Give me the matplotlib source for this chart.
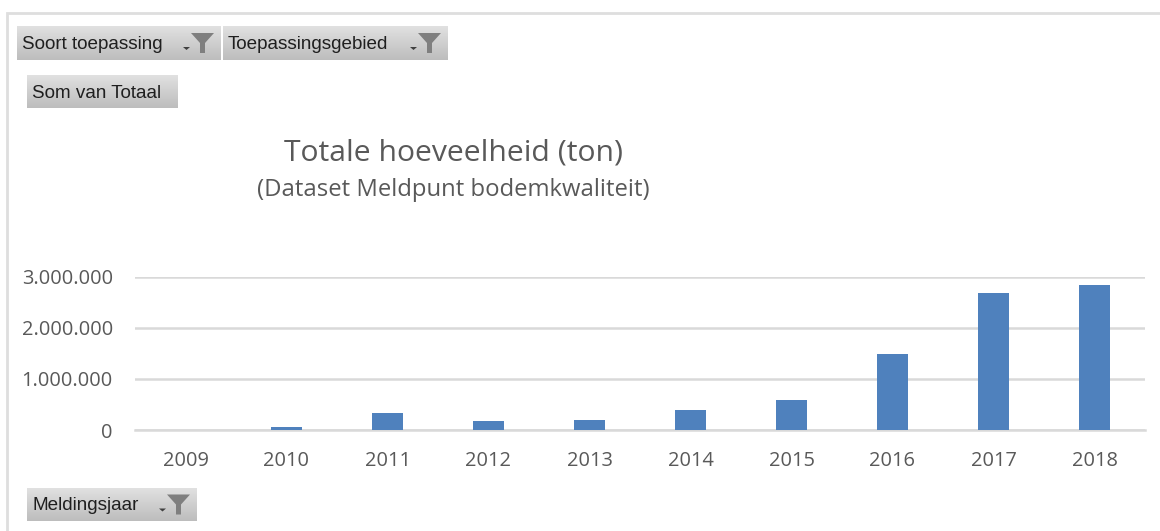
import matplotlib
matplotlib.use("Agg")
import matplotlib.pyplot as plt
import numpy as np
from matplotlib.patches import Polygon

years = ["2009", "2010", "2011", "2012", "2013", "2014", "2015", "2016", "2017", "2018"]
totals = [5000, 60000, 330000, 170000, 190000, 400000, 590000, 1490000, 2670000, 2830000]
yticks = [0, 1000000, 2000000, 3000000]
ytick_labels = ["0", "1.000.000", "2.000.000", "3.000.000"]
title = "Totale hoeveelheid (ton)"
subtitle = "(Dataset Meldpunt bodemkwaliteit)"
buttons = [("Soort toepassing", 17, 221, 26, 60, True),
           ("Toepassingsgebied", 223, 448, 26, 60, True),
           ("Som van Totaal", 27, 178, 75, 108, False),
           ("Meldingsjaar", 27, 197, 488, 521, True)]

W, H = 1160, 531
GREY = "#595959"
GRID = "#D9D9D9"
plt.rcParams["font.family"] = ["Open Sans", "DejaVu Sans"]

fig = plt.figure(figsize=(W / 100, H / 100), dpi=100, facecolor="white")

# overlay in pixel coordinates for the pivot-chart furniture
bg = fig.add_axes([0, 0, 1, 1], zorder=0)
bg.axis("off")
bg.plot([7, 7, W], [H, 12.5, 12.5], color="#DEDEDE", lw=2, solid_joinstyle="miter")

grad = np.linspace(0.88, 0.74, 64).reshape(-1, 1)
for label, x0, x1, y0, y1, has_filter in buttons:
    bg.imshow(grad, extent=(x0, x1, y1, y0), cmap="gray", vmin=0, vmax=1,
              aspect="auto", zorder=1)
    bg.text(x0 + 5, (y0 + y1) / 2 + 1.5, label, fontsize=13.6, color="#1F1F1F",
            ha="left", va="center", family=["Liberation Sans", "DejaVu Sans"], zorder=2)
    if has_filter:
        fx = x1 - 30
        cy = (y0 + y1) / 2
        bg.add_patch(Polygon([(fx, cy - 10), (fx + 23, cy - 10), (fx + 14, cy),
                              (fx + 14, cy + 10), (fx + 9, cy + 10), (fx + 9, cy)],
                             closed=True, color="#7F7F7F", zorder=2, lw=0))
        bg.add_patch(Polygon([(fx - 8, cy + 4), (fx - 1, cy + 4), (fx - 4.5, cy + 7)],
                             closed=True, color="#404040", zorder=2, lw=0))
bg.set_xlim(0, W)
bg.set_ylim(H, 0)

bg.text(453, 153, title, fontsize=21.7, color=GREY, ha="center", va="center", zorder=2)
bg.text(453, 189.5, subtitle, fontsize=17.2, color=GREY, ha="center", va="center", zorder=2)

# chart
left, right, top, bottom = 135, 1145, 276.5, 430
ax = fig.add_axes([left / W, 1 - bottom / H, (right - left) / W, (bottom - top) / H], zorder=1)
ax.patch.set_alpha(0)
x = np.arange(len(years))
ax.bar(x, totals, width=0.315, color="#4F81BD", zorder=3)
ax.set_xlim(-0.5, len(years) - 0.5)
ax.set_ylim(0, 3000000)
ax.set_xticks(x, years)
ax.set_yticks(yticks, ytick_labels)
ax.grid(axis="y", color=GRID, lw=1.8, zorder=0)
ax.set_axisbelow(True)
for s in ["top", "right", "left"]:
    ax.spines[s].set_visible(False)
ax.spines["bottom"].set_color(GRID)
ax.spines["bottom"].set_linewidth(1.8)
ax.tick_params(axis="both", length=0, labelsize=14.4, labelcolor=GREY)
ax.tick_params(axis="x", pad=15)
ax.tick_params(axis="y", pad=16)

fig.savefig("out.png", dpi=100)
